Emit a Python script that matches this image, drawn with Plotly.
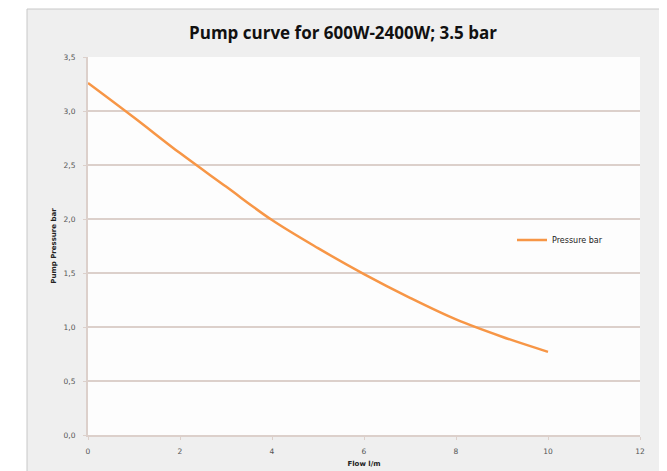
import plotly.graph_objects as go

flow = [0, 1, 2, 3, 4, 5, 6, 7, 8, 9, 10]
pressure = [3.26, 2.94, 2.61, 2.30, 1.99, 1.73, 1.49, 1.27, 1.07, 0.91, 0.77]
series_name = "Pressure bar"
title = "Pump curve for 600W-2400W; 3.5 bar"
x_title = "Flow l/m"
y_title = "Pump Pressure bar"
x_ticks = [0, 2, 4, 6, 8, 10, 12]
y_ticks = [0, 0.5, 1.0, 1.5, 2.0, 2.5, 3.0, 3.5]

OFF = 8  # browser body margin
SW, SH = 667, 471
W, H = SW - OFF, SH - OFF
# plot area in screen pixels
PX0, PX1, PY0, PY1 = 88, 640, 57, 435
L, R, T, B = PX0 - OFF, OFF + W - PX1, PY0 - OFF, OFF + H - PY1
pw, ph = PX1 - PX0, PY1 - PY0

def px_x(p):
    return (p - PX0) / pw

def px_y(p):
    return 1 - (p - PY0) / ph

grid = "#dcd0cb"
fig = go.Figure()
fig.add_trace(go.Scatter(
    x=flow, y=pressure, mode="lines", name=series_name,
    line=dict(color="#f79646", width=2.5, shape="spline", smoothing=1.0),
))

shapes = [
    dict(type="rect", xref="paper", yref="paper", x0=px_x(0), x1=px_x(27), y0=px_y(SH + 5), y1=px_y(0),
         fillcolor="white", line=dict(width=0), layer="below"),
    dict(type="rect", xref="paper", yref="paper", x0=px_x(0), x1=px_x(SW + 5), y0=px_y(9), y1=px_y(0),
         fillcolor="white", line=dict(width=0), layer="below"),
    dict(type="line", xref="paper", yref="paper", x0=px_x(27), x1=px_x(27), y0=px_y(SH + 5), y1=px_y(9),
         line=dict(color="#c8c8c8", width=1), layer="below"),
    dict(type="line", xref="paper", yref="paper", x0=px_x(27), x1=px_x(SW + 5), y0=px_y(9), y1=px_y(9),
         line=dict(color="#c8c8c8", width=1), layer="below"),
]

fig.update_layout(
    width=W, height=H,
    margin=dict(l=L, r=R, t=T, b=B),
    paper_bgcolor="#efefef",
    plot_bgcolor="#fdfdfd",
    separators=",.",
    font=dict(family="DejaVu Sans", color="#555555", size=7.5),
    title=dict(text="<b>" + title + "</b>", x=(343 - OFF) / W, xanchor="center",
               y=1 - (33 - OFF) / H, yanchor="middle",
               font=dict(family="Open Sans", size=17, color="#111111")),
    shapes=shapes,
    showlegend=True,
    legend=dict(x=px_x(512), y=px_y(240), xanchor="left", yanchor="middle",
                bgcolor="rgba(0,0,0,0)", font=dict(size=8, color="#222222"),
                itemwidth=30),
    xaxis=dict(range=[0, 12], tickvals=x_ticks, showgrid=False, zeroline=False,
               showline=True, linecolor=grid, linewidth=2, automargin=False,
               ticks="outside", ticklen=3, tickcolor=grid, ticklabelstandoff=5,
               title=dict(text="<b>" + x_title + "</b>", standoff=6,
                          font=dict(size=7, color="#222222"))),
    yaxis=dict(range=[0, 3.5], tickvals=y_ticks, tickformat=".1f",
               showgrid=True, gridcolor=grid, gridwidth=2, zeroline=False,
               showline=True, linecolor=grid, linewidth=2, automargin=False,
               ticks="outside", ticklen=3, tickcolor=grid, ticklabelstandoff=6,
               title=dict(text="<b>" + y_title + "</b>", standoff=6,
                          font=dict(size=7, color="#222222"))),
)

fig.write_html("out.html")
